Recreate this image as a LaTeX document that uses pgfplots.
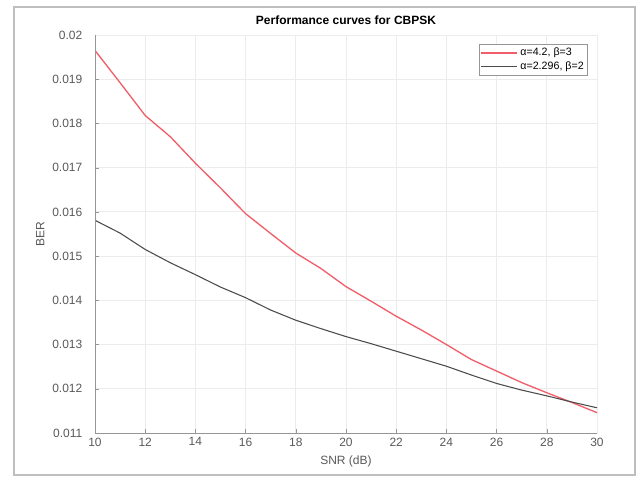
\documentclass[border=0pt]{standalone}
\usepackage{fontspec}
\setmainfont{Liberation Sans}
\usepackage{pgfplots}
\pgfplotsset{compat=1.18}

\definecolor{redline}{RGB}{240,95,105}
\definecolor{darkline}{RGB}{75,75,75}
\definecolor{axgray}{RGB}{150,150,150}
\definecolor{gridgray}{RGB}{236,236,236}
\definecolor{framegray}{RGB}{190,190,190}

\pgfplotstableread{
snr ber
10 0.01965
11 0.01892
12 0.01818
13 0.01770
14 0.01710
15 0.01654
16 0.01596
17 0.01551
18 0.01507
19 0.01472
20 0.01431
21 0.01398
22 0.01364
23 0.01333
24 0.01300
25 0.01266
26 0.01240
27 0.01214
28 0.01191
29 0.01169
30 0.01146
}\redcurve

\pgfplotstableread{
snr ber
10 0.01581
11 0.01552
12 0.01515
13 0.01485
14 0.01458
15 0.01430
16 0.01406
17 0.01378
18 0.01355
19 0.01336
20 0.01318
21 0.01302
22 0.01285
23 0.01268
24 0.01251
25 0.01231
26 0.01212
27 0.01197
28 0.01184
29 0.01170
30 0.01157
}\blackcurve

\begin{document}
\begin{tikzpicture}
\begin{axis}[
    name=ax,
    scale only axis,
    width=376.5pt, height=298.5pt,
    xmin=10, xmax=30, ymin=0.011, ymax=0.02,
    xtick={10,12,14,16,18,20,22,24,26,28,30},
    ytick={0.011,0.012,0.013,0.014,0.015,0.016,0.017,0.018,0.019,0.02},
    scaled y ticks=false,
    yticklabel style={/pgf/number format/fixed, /pgf/number format/precision=3, xshift=-6pt},
    /pgf/number format/assume math mode=true,
    ticklabel style={font=\fontsize{9}{10}\selectfont, text=black!65},
    xtick pos=left, ytick pos=left,
    tick align=inside, major tick length=3pt,
    tick style={axgray},
    grid=major,
    major grid style={gridgray, line width=0.6pt},
    axis line style={gridgray},
    title={Performance curves for CBPSK},
    title style={at={(0.5,1)}, anchor=base, yshift=2pt, font=\bfseries\fontsize{9}{10}\selectfont},
    xlabel={SNR (dB)},
    xlabel style={at={(0.5,0)}, anchor=center, yshift=-21pt, font=\fontsize{9}{10}\selectfont, text=black!65},
    ylabel={BER},
    ylabel style={at={(-0.109,0.5)}, anchor=center, font=\fontsize{9}{10}\selectfont, text=black!65},
    legend style={at={(1,1)}, anchor=north east, xshift=-6.75pt, yshift=-6.75pt,
        draw=axgray, font=\fontsize{8}{9}\selectfont, inner sep=1pt, row sep=-1pt,
        cells={anchor=west}},
    legend image code/.code={\draw[#1] (0pt,0pt) -- (27pt,0pt);},
]
  \addplot[redline, line width=1pt] table[x=snr, y=ber] {\redcurve};
  \addlegendentry{α=4.2, β=3}
  \addplot[darkline, line width=0.8pt] table[x=snr, y=ber] {\blackcurve};
  \addlegendentry{α=2.296, β=2}
\end{axis}
\draw[axgray, line width=0.7pt] (ax.north west) -- (ax.south west) -- (ax.south east);
\draw[framegray, line width=1pt] ([shift={(-60.75pt,-31.5pt)}]ax.south west) rectangle ([shift={(28.5pt,21pt)}]ax.north east);
\path ([shift={(-71.25pt,-33pt)}]ax.south west) rectangle ([shift={(34.5pt,26.25pt)}]ax.north east);
\end{tikzpicture}
\end{document}
